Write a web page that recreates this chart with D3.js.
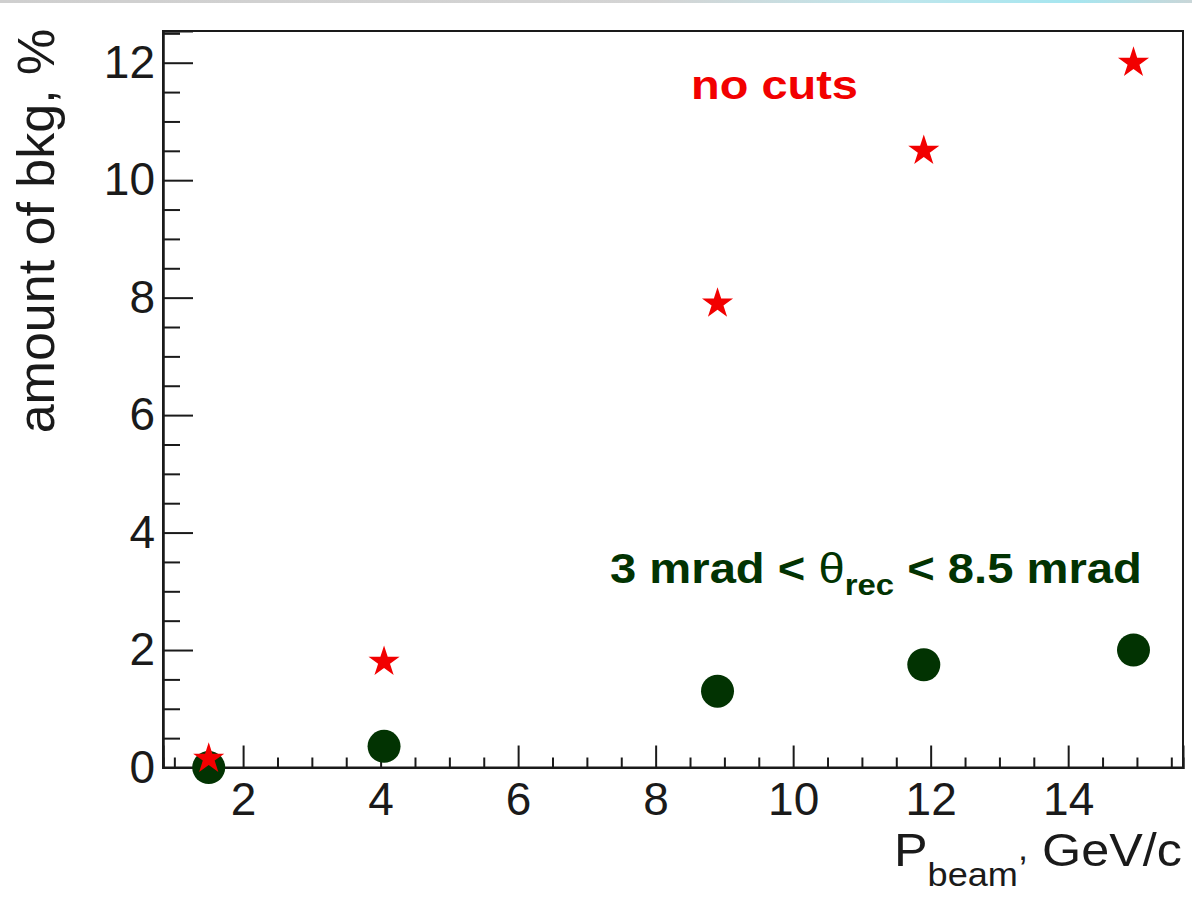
<!DOCTYPE html>
<html>
<head>
<meta charset="utf-8">
<script src="https://cdn.jsdelivr.net/npm/d3@7"></script>
<style>
  html, body { margin: 0; padding: 0; background: #ffffff; }
  svg { display: block; }
  text { font-family: "Liberation Sans", Arial, Helvetica, sans-serif; }
</style>
</head>
<body>
<script>
// Beam momentum points (GeV/c)
const beamMomentum = [1.5, 4.05, 8.9, 11.9, 14.95];
// Background fraction (%) without any cuts
const bkgNoCuts = [0.15, 1.8, 7.9, 10.5, 12.0];
// Background fraction (%) with 3 mrad < theta_rec < 8.5 mrad
const bkgThetaCut = [0.0, 0.36, 1.3, 1.75, 2.0];
// Axis ticks
const xMajorTicks = [2, 4, 6, 8, 10, 12, 14];
const yMajorTicks = [0, 2, 4, 6, 8, 10, 12];
const xDomain = [0.835, 15.67];
const yDomain = [0, 12.54];

const W = 1192, H = 900;
const frame = { left: 163, right: 1183, top: 31, bottom: 767.5 };
const red = "#f20000";
const green = "#023302";

const svg = d3.select("body").append("svg")
  .attr("width", W).attr("height", H);

// thin slide-edge strip at the very top
const grad = svg.append("defs").append("linearGradient")
  .attr("id", "edge").attr("x1", "0%").attr("x2", "100%");
[["0%", "#cfcfcf"], ["55%", "#d4d4d4"], ["75%", "#bfe6ec"], ["90%", "#a6e6f0"], ["100%", "#c9d6d8"]]
  .forEach(([o, c]) => grad.append("stop").attr("offset", o).attr("stop-color", c));
svg.append("rect").attr("x", 0).attr("y", 0).attr("width", W).attr("height", 3)
  .attr("fill", "url(#edge)");

const x = d3.scaleLinear().domain(xDomain).range([frame.left, frame.right]);
const y = d3.scaleLinear().domain(yDomain).range([frame.bottom, frame.top]);

const xMinor = d3.range(1, 15.51, 0.5).filter(v => !xMajorTicks.includes(v));
const yMinor = d3.range(0.5, 12.51, 0.5).filter(v => !yMajorTicks.includes(v));

// frame box
svg.append("rect")
  .attr("x", frame.left).attr("y", frame.top)
  .attr("width", frame.right - frame.left).attr("height", frame.bottom - frame.top)
  .attr("fill", "none").attr("stroke", "#1a1a1a").attr("stroke-width", 2);

function styleAxis(g) {
  g.select(".domain").attr("stroke", "#1a1a1a").attr("stroke-width", 2);
  g.selectAll(".tick line").attr("stroke", "#1a1a1a").attr("stroke-width", 2);
  g.selectAll(".tick text")
    .attr("fill", "#1a1a1a")
    .style("font-size", "46px")
    .style("font-family", "'Liberation Sans', Arial, sans-serif");
}

// x axis: major + minor ticks pointing inward
svg.append("g").attr("transform", `translate(0,${frame.bottom})`)
  .call(d3.axisBottom(x).tickValues(xMinor).tickSize(-10).tickFormat(""))
  .call(styleAxis);
svg.append("g").attr("transform", `translate(0,${frame.bottom})`)
  .call(d3.axisBottom(x).tickValues(xMajorTicks).tickSize(-22).tickPadding(15).tickFormat(d3.format("d")))
  .call(styleAxis);

// y axis
svg.append("g").attr("transform", `translate(${frame.left},0)`)
  .call(d3.axisLeft(y).tickValues(yMinor).tickSize(-17).tickFormat(""))
  .call(styleAxis);
svg.append("g").attr("transform", `translate(${frame.left},0)`)
  .call(d3.axisLeft(y).tickValues(yMajorTicks).tickSize(-30).tickPadding(8).tickFormat(d3.format("d")))
  .call(styleAxis);

// stretch a text group horizontally to a given width, anchored at a side
function fitText(g, targetWidth, anchorX, anchor) {
  const bb = g.node().getBBox();
  const k = targetWidth / bb.width;
  const left = anchor === "end" ? anchorX - targetWidth
             : anchor === "middle" ? anchorX - targetWidth / 2 : anchorX;
  g.attr("transform", `translate(${left - bb.x * k},0) scale(${k},1)`);
}

// y axis title
svg.append("text")
  .attr("transform", `translate(54,${(31 + 431) / 2}) rotate(-90)`)
  .attr("text-anchor", "middle")
  .attr("fill", "#1a1a1a")
  .style("font-size", "52px")
  .text("amount of bkg, %");

// x axis title: P_beam, GeV/c
{
  const g = svg.append("g");
  const t = g.append("text").attr("x", 0).attr("y", 866)
    .attr("fill", "#1a1a1a").style("font-size", "46px");
  t.append("tspan").text("P");
  t.append("tspan").attr("dy", 20).style("font-size", "33px").text("beam");
  t.append("tspan").attr("dy", -26).style("font-size", "33px").text(",");
  t.append("tspan").attr("dy", 6).text(" GeV/c");
  fitText(g, 288, 1182, "end");
}

// "no cuts" label
{
  const g = svg.append("g");
  g.append("text").attr("x", 0).attr("y", 99)
    .attr("fill", red).style("font-size", "41px").style("font-weight", "bold")
    .text("no cuts");
  fitText(g, 167, 691, "start");
}

// cut label
{
  const g = svg.append("g");
  const t = g.append("text").attr("x", 0).attr("y", 583)
    .attr("fill", green).style("font-size", "43px").style("font-weight", "bold");
  t.append("tspan").text("3 mrad < ");
  t.append("tspan").style("font-weight", "normal").text("θ");
  t.append("tspan").attr("dy", 12).style("font-size", "30px").text("rec");
  t.append("tspan").attr("dy", -12).text(" < 8.5 mrad");
  fitText(g, 532, 610, "start");
}

// circles: with angular cut
svg.append("g").selectAll("circle")
  .data(d3.zip(beamMomentum, bkgThetaCut))
  .join("circle")
  .attr("cx", d => x(d[0]))
  .attr("cy", d => y(d[1]))
  .attr("r", 16.5)
  .attr("fill", green);

// stars: no cuts
const star = d3.symbol().type(d3.symbolStar).size(300);
svg.append("g").selectAll("path")
  .data(d3.zip(beamMomentum, bkgNoCuts))
  .join("path")
  .attr("d", star)
  .attr("transform", d => `translate(${x(d[0])},${y(d[1])})`)
  .attr("fill", red);
</script>
</body>
</html>
